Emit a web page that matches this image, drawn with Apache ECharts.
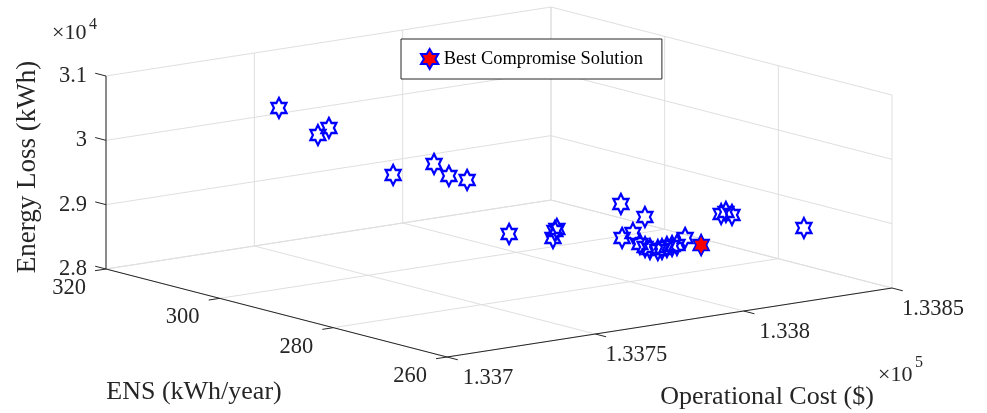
<!DOCTYPE html>
<html>
<head>
<meta charset="utf-8">
<title>Pareto front</title>
<script src="https://cdn.jsdelivr.net/npm/echarts@6/dist/echarts.min.js"></script>
<style>
html, body { margin: 0; padding: 0; background: #fff; }
#chart { width: 987px; height: 413px; }
</style>
</head>
<body>
<div id="chart"></div>
<script>
// tick values and labels of the three axes
const costTicks = [133700, 133750, 133800, 133850];
const costLabels = ['1.337', '1.3375', '1.338', '1.3385'];
const ensTicks = [260, 280, 300, 320];
const ensLabels = ['260', '280', '300', '320'];
const lossTicks = [28000, 29000, 30000, 31000];
const lossLabels = ['2.8', '2.9', '3', '3.1'];

// pareto solutions: operational cost ($), ENS (kWh/year), energy loss (kWh)
const cost = [133746.8, 133754.2, 133755.6, 133762.3, 133764.6, 133767.3, 133770.0,
  133778.4, 133788.1, 133788.6, 133787.6, 133793.1, 133798.9, 133802.7, 133805.2,
  133806.4, 133807.0, 133807.5, 133809.0, 133810.4, 133810.9, 133811.5, 133812.0,
  133813.6, 133816.7, 133815.4, 133817.0, 133817.9, 133831.8];
const ens = [314.0, 311.0, 309.8, 302.0, 296.0, 294.8, 293.0,
  290.0, 287.0, 287.6, 286.4, 278.0, 276.8, 282.8, 282.2,
  281.6, 281.0, 280.4, 279.8, 279.8, 279.2, 278.6, 278.0,
  277.4, 276.2, 272.0, 272.0, 271.4, 266.0];
const loss = [30305, 29900, 30027, 29427, 29718, 29539, 29499,
  28668, 28713, 28586, 28762, 29303, 29086, 28597, 28668,
  28502, 28466, 28446, 28432, 28438, 28479, 28504, 28530,
  28642, 28536, 29124, 29144, 29105, 28926];

// best compromise solution
const bestCost = [133816.7];
const bestEns = [276.2];
const bestLoss = [28536];

// box limits
const costRange = [133700, 133850];
const ensRange = [260, 320];
const lossRange = [28000, 31000];

// view: screen point of the (min, min, min) corner and the screen vector of each box edge
const view = {
  origin: [447, 357],
  costEdge: [445, -69],
  ensEdge: [-341, -88],
  lossEdge: [0, -193]
};

function project(c, e, l) {
  const a = (c - costRange[0]) / (costRange[1] - costRange[0]);
  const b = (e - ensRange[0]) / (ensRange[1] - ensRange[0]);
  const h = (l - lossRange[0]) / (lossRange[1] - lossRange[0]);
  return [
    view.origin[0] + a * view.costEdge[0] + b * view.ensEdge[0] + h * view.lossEdge[0],
    view.origin[1] + a * view.costEdge[1] + b * view.ensEdge[1] + h * view.lossEdge[1]
  ];
}

const seg = s => project(s[0], s[1], s[2]).concat(project(s[3], s[4], s[5]));

// grid lines on the floor and the two back walls
const gridSegs = [];
costTicks.forEach(c => {
  gridSegs.push([c, ensRange[0], lossRange[0], c, ensRange[1], lossRange[0]]);
  gridSegs.push([c, ensRange[1], lossRange[0], c, ensRange[1], lossRange[1]]);
});
ensTicks.forEach(e => {
  gridSegs.push([costRange[0], e, lossRange[0], costRange[1], e, lossRange[0]]);
  gridSegs.push([costRange[1], e, lossRange[0], costRange[1], e, lossRange[1]]);
});
lossTicks.forEach(l => {
  gridSegs.push([costRange[0], ensRange[1], l, costRange[1], ensRange[1], l]);
  gridSegs.push([costRange[1], ensRange[0], l, costRange[1], ensRange[1], l]);
});

// axis lines and tick marks
const axisSegs = [
  [costRange[0], ensRange[0], lossRange[0], costRange[0], ensRange[1], lossRange[0]],
  [costRange[0], ensRange[0], lossRange[0], costRange[1], ensRange[0], lossRange[0]],
  [costRange[0], ensRange[1], lossRange[0], costRange[0], ensRange[1], lossRange[1]]
];
costTicks.forEach(c => axisSegs.push([c, ensRange[0], lossRange[0], c, ensRange[0] - 1.9, lossRange[0]]));
ensTicks.forEach(e => axisSegs.push([costRange[0], e, lossRange[0], costRange[0] - 3.7, e, lossRange[0]]));
lossTicks.forEach(l => axisSegs.push([costRange[0], ensRange[1], l, costRange[0], ensRange[1] + 1.9, l]));

// tick labels: anchor point + text
const tickLabels = [];
lossTicks.forEach((l, i) => {
  const p = project(costRange[0], ensRange[1], l);
  tickLabels.push({ pos: [p[0] - 19, p[1]], text: lossLabels[i], align: 'right' });
});
ensTicks.forEach((e, i) => {
  const p = project(costRange[0], e, lossRange[0]);
  tickLabels.push({ pos: [p[0] - 37, p[1] + 19], text: ensLabels[i], align: 'center' });
});
costTicks.forEach((c, i) => {
  const p = project(c, ensRange[0], lossRange[0]);
  tickLabels.push({ pos: [p[0] + 41, p[1] + 21], text: costLabels[i], align: 'center' });
});

const font = 'Liberation Serif';
const hexagram = 'path://M10,0L12.887,5L18.66,5L15.774,10L18.66,15L12.887,15L10,20L7.113,15L1.34,15L4.226,10L1.34,5L7.113,5Z';

function segmentSeries(segs, color, z) {
  return {
    type: 'custom',
    coordinateSystem: 'cartesian2d',
    silent: true,
    z: z,
    data: segs.map(seg),
    renderItem: (params, api) => {
      const p1 = api.coord([api.value(0), api.value(1)]);
      const p2 = api.coord([api.value(2), api.value(3)]);
      return {
        type: 'line',
        shape: { x1: p1[0], y1: p1[1], x2: p2[0], y2: p2[1] },
        style: { stroke: color, lineWidth: 1 }
      };
    }
  };
}

const chart = echarts.init(document.getElementById('chart'));

chart.setOption({
  animation: false,
  backgroundColor: '#fff',
  grid: { left: 0, right: 0, top: 0, bottom: 0 },
  xAxis: { type: 'value', min: 0, max: 987, show: false },
  yAxis: { type: 'value', min: 0, max: 413, inverse: true, show: false },
  legend: {
    data: ['Best Compromise Solution'],
    left: 401,
    top: 39,
    padding: [9, 19, 9, 19],
    itemWidth: 18,
    itemHeight: 20,
    backgroundColor: '#fff',
    borderColor: '#262626',
    borderWidth: 1,
    borderRadius: 0,
    selectedMode: false,
    textStyle: { fontFamily: font, fontSize: 18.4, color: '#000' }
  },
  graphic: [
    { type: 'text', left: 52, top: 22, style: { text: '×10', fontFamily: font, fontSize: 22, fill: '#262626' } },
    { type: 'text', left: 89, top: 17, style: { text: '4', fontFamily: font, fontSize: 16, fill: '#262626' } },
    { type: 'text', left: 878, top: 364, style: { text: '×10', fontFamily: font, fontSize: 22, fill: '#262626' } },
    { type: 'text', left: 915, top: 355, style: { text: '5', fontFamily: font, fontSize: 16, fill: '#262626' } },
    {
      type: 'text', x: 28, y: 167, rotation: Math.PI / 2,
      style: { text: 'Energy Loss (kWh)', fontFamily: font, fontSize: 27, fill: '#262626', align: 'center', verticalAlign: 'middle' }
    },
    {
      type: 'text', x: 194, y: 392,
      style: { text: 'ENS (kWh/year)', fontFamily: font, fontSize: 26, fill: '#262626', align: 'center', verticalAlign: 'middle' }
    },
    {
      type: 'text', x: 767, y: 397,
      style: { text: 'Operational Cost ($)', fontFamily: font, fontSize: 26, fill: '#262626', align: 'center', verticalAlign: 'middle' }
    }
  ],
  series: [
    segmentSeries(gridSegs, '#dfdfdf', 1),
    segmentSeries(axisSegs, '#262626', 2),
    {
      type: 'custom',
      coordinateSystem: 'cartesian2d',
      silent: true,
      z: 2,
      data: tickLabels.map(t => t.pos),
      renderItem: (params, api) => {
        const t = tickLabels[params.dataIndex];
        const p = api.coord([api.value(0), api.value(1)]);
        return {
          type: 'text',
          x: p[0],
          y: p[1],
          style: { text: t.text, fontFamily: font, fontSize: 22.5, fill: '#262626', align: t.align, verticalAlign: 'middle' }
        };
      }
    },
    {
      name: 'Pareto Solutions',
      type: 'scatter',
      symbol: hexagram,
      symbolSize: [17.3, 20],
      symbolKeepAspect: true,
      silent: true,
      z: 3,
      itemStyle: { color: 'rgba(0,0,0,0)', borderColor: '#0000ff', borderWidth: 2.3, opacity: 1 },
      data: cost.map((c, i) => project(c, ens[i], loss[i]))
    },
    {
      name: 'Best Compromise Solution',
      type: 'scatter',
      symbol: hexagram,
      symbolSize: [17.3, 20],
      symbolKeepAspect: true,
      silent: true,
      z: 4,
      itemStyle: { color: '#ff0000', borderColor: '#0000ff', borderWidth: 1.2, opacity: 1 },
      data: bestCost.map((c, i) => project(c, bestEns[i], bestLoss[i]))
    }
  ]
});
</script>
</body>
</html>
